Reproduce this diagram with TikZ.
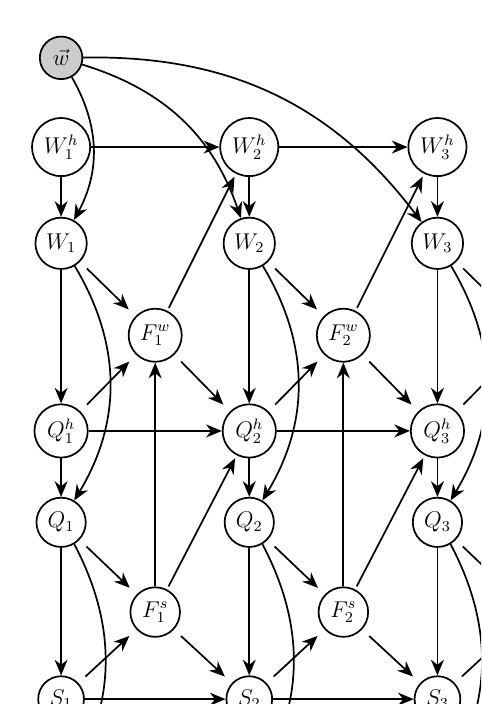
\documentclass[tikz,border=0pt]{standalone}
\usepackage{amsmath,amssymb}
\usetikzlibrary{arrows.meta,positioning}

\begin{document}
\begin{tikzpicture}[on grid,
  st/.style={circle, draw, line width=0.9pt, inner sep=3pt, font=\large},
  obs/.style={st, fill=black!20, inner sep=3.6pt},
  ar/.style={line width=0.9pt, -{Stealth[length=2.9mm,width=2.4mm]}},
  dg/.style={ar, shorten <=5pt, shorten >=5pt},
  sp/.style={ar, shorten <=1.7pt, shorten >=1.7pt}]
\useasboundingbox (-1.13,2.72) rectangle (7.77,-10.30);
\clip (-1.13,2.72) rectangle (7.77,-10.30);
% first column
\node[st] (W1h) {$W_1^h$};
\node[obs, above=1.65cm of W1h] (w) {$\vec{w}$};
\node[st, below=1.78cm of W1h] (W1) {$W_1$};
\node[st, below=3.47cm of W1] (Q1h) {$Q_1^h$};
\node[st, below=1.69cm of Q1h] (Q1) {$Q_1$};
\node[st, below=3.27cm of Q1] (S1) {$S_1$};
\node[st, below right=1.70cm and 1.74cm of W1] (F1w) {$F_1^w$};
\node[st, below right=1.66cm and 1.74cm of Q1] (F1s) {$F_1^s$};
% second column
\node[st, right=3.48cm of W1h] (W2h) {$W_2^h$};
\node[st, right=3.48cm of W1] (W2) {$W_2$};
\node[st, right=3.48cm of Q1h] (Q2h) {$Q_2^h$};
\node[st, right=3.48cm of Q1] (Q2) {$Q_2$};
\node[st, right=3.48cm of S1] (S2) {$S_2$};
\node[st, right=3.48cm of F1w] (F2w) {$F_2^w$};
\node[st, right=3.48cm of F1s] (F2s) {$F_2^s$};
% third column
\node[st, right=3.48cm of W2h] (W3h) {$W_3^h$};
\node[st, right=3.48cm of W2] (W3) {$W_3$};
\node[st, right=3.48cm of Q2h] (Q3h) {$Q_3^h$};
\node[st, right=3.48cm of Q2] (Q3) {$Q_3$};
\node[st, right=3.48cm of S2] (S3) {$S_3$};
% ends that run past the frame
\coordinate[right=3.48cm of F2w] (F3w);
\coordinate[right=3.48cm of F2s] (F3s);
\coordinate[below=1.69cm of S1] (S1d);
\coordinate[below=1.69cm of S2] (S2d);
\coordinate[below=1.69cm of S3] (S3d);

\draw[ar] (w) to[bend left=29] (W1);
\draw[ar] (w) to[bend left=27] (W2);
\draw[ar] (w) to[bend left=27] (W3);
\draw[ar] (W1h) -- (W2h); \draw[ar] (W2h) -- (W3h);
\draw[ar] (W1h) -- (W1); \draw[ar] (W2h) -- (W2); \draw[ar] (W3h) -- (W3);
\draw[dg] (W1) -- (F1w); \draw[dg] (W2) -- (F2w); \draw[dg] (W3) -- (F3w);
\draw[ar] (W1) -- (Q1h); \draw[ar] (W2) -- (Q2h); \draw[ar] (W3) -- (Q3h);
\draw[ar] (W1) to[bend left=31] (Q1);
\draw[ar] (W2) to[bend left=31] (Q2);
\draw[ar] (W3) to[bend left=31] (Q3);
\draw[sp] (F1w) -- (W2h); \draw[sp] (F2w) -- (W3h);
\draw[dg] (F1w) -- (Q2h); \draw[dg] (F2w) -- (Q3h);
\draw[dg] (Q1h) -- (F1w); \draw[dg] (Q2h) -- (F2w); \draw[dg] (Q3h) -- (F3w);
\draw[ar] (Q1h) -- (Q2h); \draw[ar] (Q2h) -- (Q3h);
\draw[ar] (Q1h) -- (Q1); \draw[ar] (Q2h) -- (Q2); \draw[ar] (Q3h) -- (Q3);
\draw[dg] (Q1) -- (F1s); \draw[dg] (Q2) -- (F2s); \draw[dg] (Q3) -- (F3s);
\draw[ar] (Q1) -- (S1); \draw[ar] (Q2) -- (S2); \draw[ar] (Q3) -- (S3);
\draw[ar] (Q1) to[bend left=31] (S1d);
\draw[ar] (Q2) to[bend left=31] (S2d);
\draw[ar] (Q3) to[bend left=31] (S3d);
\draw[ar] (F1s) -- (F1w); \draw[ar] (F2s) -- (F2w);
\draw[sp] (F1s) -- (Q2h); \draw[sp] (F2s) -- (Q3h);
\draw[dg] (F1s) -- (S2); \draw[dg] (F2s) -- (S3);
\draw[dg] (S1) -- (F1s); \draw[dg] (S2) -- (F2s); \draw[dg] (S3) -- (F3s);
\draw[ar] (S1) -- (S2); \draw[ar] (S2) -- (S3);
\end{tikzpicture}
\end{document}
